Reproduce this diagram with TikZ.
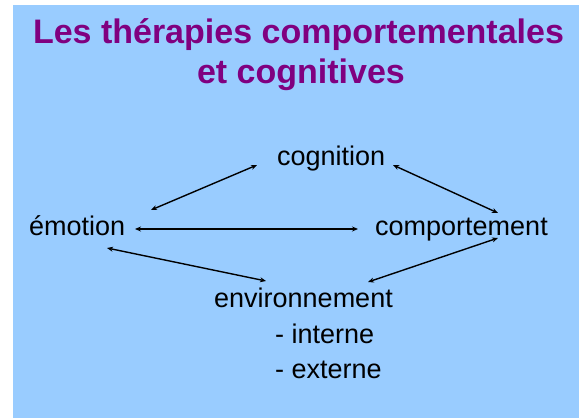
\documentclass[tikz,border=0pt]{standalone}
\usepackage{fontspec}
\setmainfont{Liberation Sans}
\usetikzlibrary{arrows.meta}
\definecolor{slidebg}{HTML}{99CCFF}
\definecolor{titlepurple}{HTML}{800080}
\begin{document}
\begin{tikzpicture}[x=1pt,y=-1pt,
  title/.style={inner sep=0pt,anchor=base,text=titlepurple,
    font=\fontsize{34}{40}\selectfont\bfseries},
  term/.style={inner sep=0pt,anchor=base west,text=black,
    font=\fontsize{27}{32}\selectfont},
  link/.style={line width=1.4pt,black,{Stealth[length=6pt,width=5pt]}-{Stealth[length=6pt,width=5pt]}}]
  % page and slide background
  \useasboundingbox (0,0) rectangle (579,418);
  \fill[white] (0,0) rectangle (579,418);
  \fill[slidebg] (13,5) rectangle (579,418);

  % title
  \node[title] (t1) at (298.5,43) {Les thérapies comportementales};
  \node[title] (t2) at (301,83) {et cognitives};

  % terms
  \node[term] (cog) at (277,165) {cognition};
  \node[term] (emo) at (29,235) {émotion};
  \node[term] (comp) at (375,235) {comportement};
  \node[term] (env) at (214,307) {environnement};
  \node[term] (int) at (275,343) {- interne};
  \node[term] (ext) at (275,378) {- externe};

  % arrow end points
  \coordinate (emoA) at (151,210);
  \coordinate (cogA) at (257,165);
  \coordinate (cogB) at (393,165);
  \coordinate (compA) at (498,213);
  \coordinate (emoB) at (135,229);
  \coordinate (compB) at (358,229);
  \coordinate (emoC) at (107,248);
  \coordinate (envA) at (266,281);
  \coordinate (envB) at (368,282);
  \coordinate (compC) at (498,238);

  % links
  \draw[link] (emoA) -- (cogA);
  \draw[link] (cogB) -- (compA);
  \draw[link] (emoB) -- (compB);
  \draw[link] (emoC) -- (envA);
  \draw[link] (envB) -- (compC);
\end{tikzpicture}
\end{document}
